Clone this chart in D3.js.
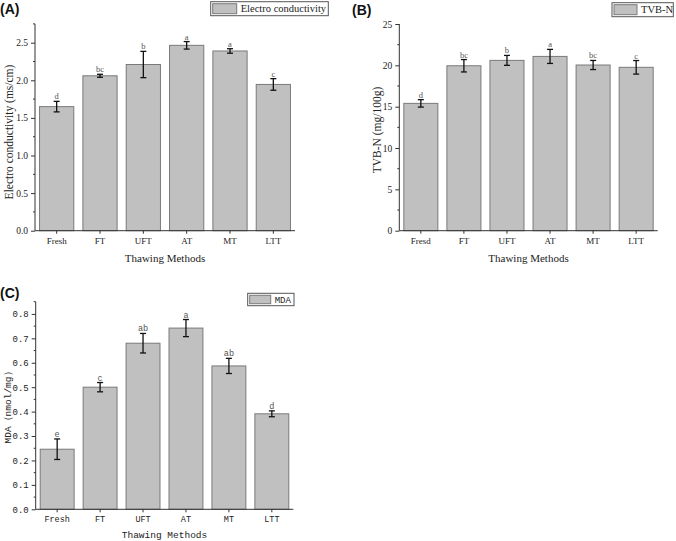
<!DOCTYPE html>
<html>
<head>
<meta charset="utf-8">
<script src="https://cdn.jsdelivr.net/npm/d3@7"></script>
<style>
  html, body { margin: 0; padding: 0; background: #fff; }
  svg { display: block; }
</style>
</head>
<body>
<svg id="chart" width="676" height="541"></svg>
<script>
// ---------- DATA ----------
const categoriesA = ["Fresh", "FT", "UFT", "AT", "MT", "LTT"];
const valuesA = [1.65, 2.06, 2.21, 2.465, 2.39, 1.945];
const errorsA = [0.07, 0.02, 0.175, 0.05, 0.03, 0.077];
const lettersA = ["d", "bc", "b", "a", "a", "c"];
const ticksA = [0, 0.5, 1.0, 1.5, 2.0, 2.5];
const minorTicksA = [0.25, 0.75, 1.25, 1.75, 2.25, 2.75];

const categoriesB = ["Fresd", "FT", "UFT", "AT", "MT", "LTT"];
const valuesB = [15.4, 19.95, 20.6, 21.08, 20.04, 19.76];
const errorsB = [0.45, 0.75, 0.6, 0.85, 0.55, 0.82];
const lettersB = ["d", "bc", "b", "a", "bc", "c"];
const ticksB = [0, 5, 10, 15, 20, 25];
const minorTicksB = [2.5, 7.5, 12.5, 17.5, 22.5];

const categoriesC = ["Fresh", "FT", "UFT", "AT", "MT", "LTT"];
const valuesC = [0.246, 0.50, 0.68, 0.742, 0.587, 0.391];
const errorsC = [0.042, 0.019, 0.04, 0.035, 0.031, 0.012];
const lettersC = ["e", "c", "ab", "a", "ab", "d"];
const ticksC = [0, 0.1, 0.2, 0.3, 0.4, 0.5, 0.6, 0.7, 0.8];
const minorTicksC = [0.05, 0.15, 0.25, 0.35, 0.45, 0.55, 0.65, 0.75, 0.85];

// ---------- DRAW ----------
const svg = d3.select("#chart");

function panel(cfg) {
  const g = svg.append("g");
  const x = d3.scaleBand().domain(cfg.categories).range([cfg.x0, cfg.x1])
    .paddingInner(0.21).paddingOuter(0.105);
  const y = d3.scaleLinear().domain(cfg.yDomain).range([cfg.y0, cfg.yTop]);
  const data = cfg.categories.map((c, i) => ({c, v: cfg.values[i], e: cfg.errors[i], l: cfg.letters[i]}));

  // bars
  g.selectAll("rect.bar").data(data).join("rect")
    .attr("class", "bar")
    .attr("x", d => x(d.c)).attr("width", x.bandwidth())
    .attr("y", d => y(d.v)).attr("height", d => y(0) - y(d.v))
    .attr("fill", "#c0c0c0").attr("stroke", "#7a7a7a").attr("stroke-width", 1);

  // error bars
  const cx = d => x(d.c) + x.bandwidth() / 2;
  const eg = g.append("g").attr("stroke", "#111").attr("stroke-width", 1.3);
  eg.selectAll("line.v").data(data).join("line")
    .attr("x1", cx).attr("x2", cx)
    .attr("y1", d => y(d.v + d.e)).attr("y2", d => y(d.v - d.e));
  eg.selectAll("line.t").data(data).join("line")
    .attr("x1", d => cx(d) - 3).attr("x2", d => cx(d) + 3)
    .attr("y1", d => y(d.v + d.e)).attr("y2", d => y(d.v + d.e));
  eg.selectAll("line.b").data(data).join("line")
    .attr("x1", d => cx(d) - 3).attr("x2", d => cx(d) + 3)
    .attr("y1", d => y(d.v - d.e)).attr("y2", d => y(d.v - d.e));

  // letters
  g.selectAll("text.let").data(data).join("text")
    .attr("x", cx).attr("y", d => y(d.v + d.e) - 2)
    .attr("text-anchor", "middle")
    .attr("font-family", cfg.font).attr("font-size", cfg.letterSize)
    .attr("fill", "#555").text(d => d.l);

  // y axis
  const yAxis = g.append("g").attr("transform", `translate(${cfg.x0},0)`)
    .call(d3.axisLeft(y).tickValues(cfg.ticks).tickSize(4).tickPadding(3)
      .tickFormat(cfg.tickFormat));
  yAxis.select(".domain").attr("d", `M0,${cfg.y0}V${cfg.yTop}`).attr("stroke", "#333");
  yAxis.selectAll(".tick line").attr("stroke", "#333");
  yAxis.selectAll("text").attr("font-family", cfg.font).attr("font-size", cfg.yTickSize).attr("fill", "#222");
  g.append("g").selectAll("line").data(cfg.minorTicks).join("line")
    .attr("x1", cfg.x0 - 2).attr("x2", cfg.x0)
    .attr("y1", d => y(d)).attr("y2", d => y(d)).attr("stroke", "#333");

  // x axis
  const xAxis = g.append("g").attr("transform", `translate(0,${cfg.y0})`)
    .call(d3.axisBottom(x).tickSize(3).tickPadding(4));
  xAxis.select(".domain").attr("d", `M${cfg.x0},0H${cfg.x1}`).attr("stroke", "#333");
  xAxis.selectAll(".tick line").attr("stroke", "#333");
  xAxis.selectAll("text").attr("font-family", cfg.font).attr("font-size", cfg.xTickSize).attr("fill", "#222");

  // axis titles
  g.append("text").attr("x", (cfg.x0 + cfg.x1) / 2).attr("y", cfg.xTitleY)
    .attr("text-anchor", "middle").attr("font-family", cfg.font)
    .attr("font-size", cfg.titleSize).attr("fill", "#222").text(cfg.xTitle);
  g.append("text")
    .attr("transform", `translate(${cfg.yTitleX},${cfg.yTitleCY}) rotate(-90)`)
    .attr("text-anchor", "middle").attr("font-family", cfg.font)
    .attr("font-size", cfg.yTitleSize).attr("fill", "#222").text(cfg.yTitle);

  // legend
  const L = cfg.legend;
  g.append("rect").attr("x", L.x).attr("y", L.y).attr("width", L.w).attr("height", L.h)
    .attr("fill", "#fff").attr("stroke", "#555").attr("stroke-width", 1);
  g.append("rect").attr("x", L.x + 2).attr("y", L.y + 2).attr("width", L.sw).attr("height", L.h - 4)
    .attr("fill", "#c0c0c0").attr("stroke", "#7a7a7a").attr("stroke-width", 1);
  g.append("text").attr("x", L.x + L.sw + 6).attr("y", L.y + L.h / 2 + 3.5)
    .attr("font-family", cfg.font).attr("font-size", L.size).attr("fill", "#222").text(L.text);

  // panel label
  g.append("text").attr("x", cfg.labelX).attr("y", cfg.labelY)
    .attr("font-family", "Liberation Sans, Arial, sans-serif").attr("font-weight", "bold")
    .attr("font-size", 14).attr("fill", "#111").text(cfg.label);
}

const serif = "Liberation Serif, Times New Roman, serif";
const mono = "Liberation Mono, Courier New, monospace";

panel({
  categories: categoriesA, values: valuesA, errors: errorsA, letters: lettersA,
  ticks: ticksA, minorTicks: minorTicksA, tickFormat: d3.format(".1f"),
  x0: 35, x1: 295, y0: 230.7, yTop: 23.9, yDomain: [0, 2.75],
  font: serif, letterSize: 8.5, yTickSize: 9.5, xTickSize: 9, titleSize: 11, yTitleSize: 11.5,
  xTitle: "Thawing Methods", xTitleY: 261.5,
  yTitle: "Electro conductivity (ms/cm)", yTitleX: 13, yTitleCY: 132,
  legend: {x: 210.7, y: 1.7, w: 117.6, h: 14, sw: 24, text: "Electro conductivity", size: 10.5},
  label: "(A)", labelX: 0, labelY: 14
});

panel({
  categories: categoriesB, values: valuesB, errors: errorsB, letters: lettersB,
  ticks: ticksB, minorTicks: minorTicksB, tickFormat: d3.format("d"),
  x0: 399.3, x1: 657.7, y0: 230.7, yTop: 24, yDomain: [0, 25],
  font: serif, letterSize: 8.5, yTickSize: 9.5, xTickSize: 9, titleSize: 11, yTitleSize: 11.5,
  xTitle: "Thawing Methods", xTitleY: 261.5,
  yTitle: "TVB-N (mg/100g)", yTitleX: 381, yTitleCY: 130,
  legend: {x: 612, y: 2.7, w: 61.3, h: 14, sw: 23, text: "TVB-N", size: 10.5},
  label: "(B)", labelX: 352, labelY: 15
});

panel({
  categories: categoriesC, values: valuesC, errors: errorsC, letters: lettersC,
  ticks: ticksC, minorTicks: minorTicksC, tickFormat: d3.format(".1f"),
  x0: 35.7, x1: 293.3, y0: 509.3, yTop: 301.7, yDomain: [0, 0.85],
  font: mono, letterSize: 8.5, yTickSize: 9, xTickSize: 8.5, titleSize: 9.5, yTitleSize: 9.5,
  xTitle: "Thawing Methods", xTitleY: 538,
  yTitle: "MDA（nmol/mg）", yTitleX: 11, yTitleCY: 405,
  legend: {x: 247.7, y: 293.3, w: 46.3, h: 12.4, sw: 21, text: "MDA", size: 9},
  label: "(C)", labelX: 0, labelY: 298
});
</script>
</body>
</html>
